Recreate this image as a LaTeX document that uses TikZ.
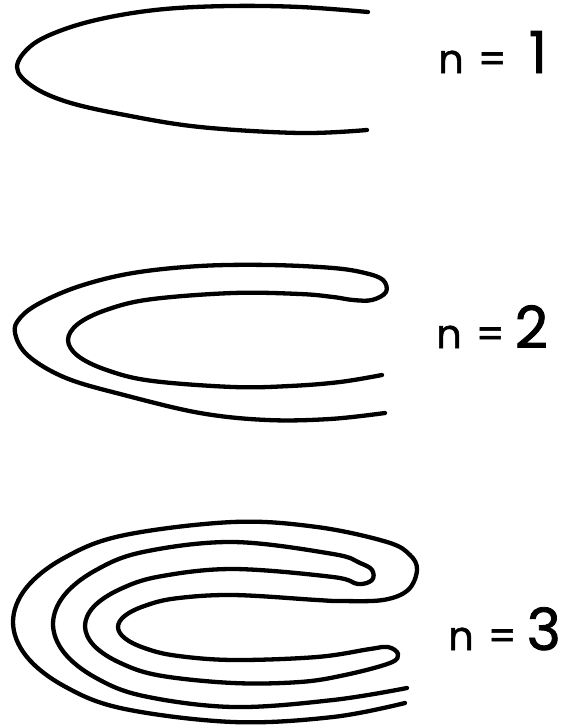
\documentclass[tikz,border=0pt]{standalone}
\usepackage{fontspec}
\setmainfont{Poppins}
\newfontfamily\labfont{Poppins}[FakeBold=1.4]
\begin{document}
\begin{tikzpicture}[x=1pt,y=-1pt,
  curve/.style={line width=4.3pt,line cap=round,line join=round},
  lab/.style={anchor=base west,inner sep=0pt,font=\labfont\fontsize{40}{40}\selectfont}]
\useasboundingbox (0,0) rectangle (563,728);
\newcommand{\bigdig}[1]{{\fontsize{58}{58}\selectfont #1}}
% n = 1
\draw[curve] plot[smooth,tension=0.6] coordinates {
 (368,12) (300,7) (230,6) (165,9) (110,17) (65,29) (32,45) (17,67) (32,86) (67.5,102)
 (125,115) (200,127) (300,133) (367,130)};
% n = 2
\draw[curve] plot[smooth,tension=0.6] coordinates {
 (382,375) (340,382) (290,386) (233,387) (150.5,380.7) (106.6,370) (78,356) (68,340)
 (78,323.9) (106.6,309.8) (150.5,299.3) (233,293) (300,294) (333,297) (353,300)
 (372,300) (386,292) (383,280) (365,273) (333,268) (270,265) (200,266) (133,273)
 (80,286) (40,303) (20,318) (15,333) (28,355.6) (66,378) (124,395) (200,413) (267,420)
 (330,419) (385,413)};
% n = 3
\draw[curve] plot[smooth,tension=0.6] coordinates {
 (405,703) (333,717) (233,722) (123,708.6) (64.5,686.3) (26.3,656.2)
 (13,622) (26.3,587.8) (64.5,557.7) (123,535.4) (233,522) (317,527)
 (387,542) (410,555) (417,570) (408,590) (383,600) (340,601) (317,600) (233,595)
 (175.5,598.4) (144.9,605.8) (124.9,615.7) (118,627) (124.9,638.3) (144.9,648.2)
 (175.5,655.6) (233,660) (317,657) (370,649) (388,647) (398,654) (390,663) (345,675)
 (300,682) (233,683) (159,675.4) (119.6,662.6) (93.9,645.5) (85,626)
 (93.9,606.5) (119.6,589.4) (159,576.6) (233,569) (333,577) (358,584) (372,580)
 (372,570) (360,563) (333,554) (233,542) (143,552) (95.1,570.6) (63.9,595.6) (53,624)
 (63.9,652.4) (95.1,677.4) (143,695.9) (233,707) (333,700) (407,688)};
\node[lab] (l1) at (438,73) {n\hspace{14pt}=\hspace{22pt}\bigdig{1}};
\node[lab] (l2) at (436,348) {n\hspace{14pt}=\hspace{10pt}\bigdig{2}};
\node[lab] (l3) at (448,650) {n\hspace{14pt}=\hspace{10pt}\bigdig{3}};
\end{tikzpicture}
\end{document}
